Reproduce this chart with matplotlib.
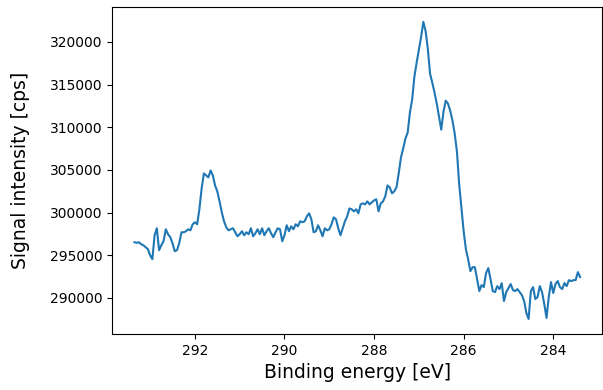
import numpy as np
import matplotlib
matplotlib.use("Agg")
import matplotlib.pyplot as plt

# C 1s region, 0.05 eV step from 293.35 eV down to 283.40 eV
e_start = 293.35
e_step = 0.05

intensity = [
    296520, 296450, 296520, 296290, 296170, 295940, 295710, 295000, 294540, 297340,
    298160, 295590, 296170, 296640, 298040, 297460, 297110, 296410, 295470, 295590,
    296410, 297690, 297690, 297810, 298040, 297920, 298630, 298860, 298630, 300380,
    302830, 304580, 304350, 304120, 304930, 304350, 303180, 302480, 301310, 300030,
    298980, 298280, 297920, 298040, 298160, 297690, 297220, 297460, 297810, 297340,
    297690, 297460, 298160, 297220, 297570, 298040, 297460, 298160, 297340, 297810,
    298160, 297570, 297110, 297690, 298160, 298040, 296640, 297340, 298510, 297810,
    298390, 298040, 298630, 298390, 298980, 298860, 298980, 299560, 299910, 299210,
    297690, 297810, 298510, 297920, 297220, 298160, 297920, 298040, 298630, 299440,
    299210, 298160, 297340, 298160, 298980, 299560, 300490, 300380, 300140, 300380,
    299910, 300960, 301080, 300960, 301310, 300960, 301200, 301430, 301550, 300140,
    301080, 301310, 301900, 303180, 302950, 302250, 302480, 302950, 304580, 306450,
    307500, 308670, 309370, 311710, 313230, 315910, 317550, 319070, 320580, 322340,
    321280, 319180, 316260, 315210, 314040, 312760, 311240, 309720, 311820, 313110,
    312760, 311940, 310770, 309250, 307150, 303300, 300610, 297810, 295710, 294540,
    293140, 293600, 293600, 292200, 290800, 291500, 291270, 292900, 293490, 292200,
    290800, 290680, 291380, 291030, 291730, 289630, 290680, 291150, 291620, 290920,
    290800, 291030, 290680, 290330, 289630, 288230, 287530, 290800, 291270, 289870,
    290100, 291380, 290680, 289280, 287650, 290100, 291850, 290570, 291620, 291970,
    291270, 291030, 291730, 291380, 292080, 291970, 292080, 292080, 293020, 292440,
]

energy = e_start - e_step * np.arange(len(intensity))

fig, ax = plt.subplots(figsize=(6.03, 3.90), dpi=100)
fig.subplots_adjust(left=0.186, right=0.999, top=0.982, bottom=0.144)

ax.plot(energy, intensity, color="#1f77b4", linewidth=1.5)
ax.invert_xaxis()
ax.ticklabel_format(axis="y", style="plain", useOffset=False)

ax.set_xlabel("Binding energy [eV]", fontsize=13.5)
ax.set_ylabel("Signal intensity [cps]", fontsize=13.5, labelpad=14)
ax.tick_params(labelsize=10)

fig.savefig("out.png", dpi=100)
